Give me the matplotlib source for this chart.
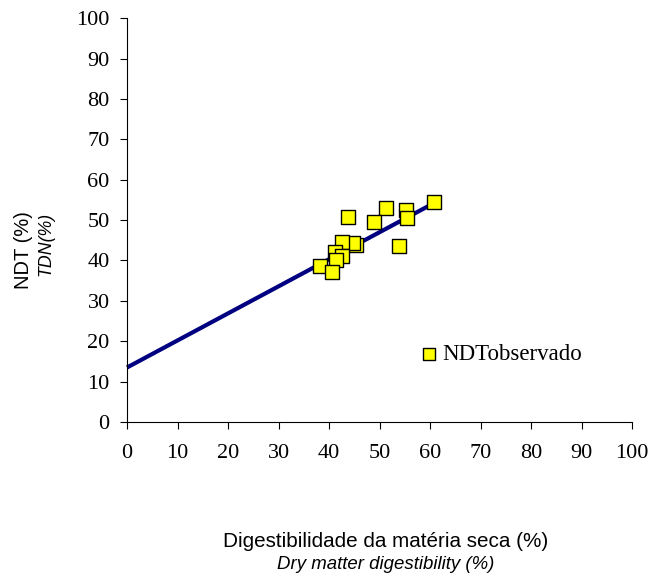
import numpy as np
import matplotlib.pyplot as plt

# Observed TDN vs dry matter digestibility
dms = [60.8, 43.7, 51.3, 48.8, 55.2, 55.4, 53.9, 45.3, 44.8, 42.6, 41.1, 42.6, 41.4, 38.2, 40.5]
ndt = [54.4, 50.8, 53.0, 49.5, 52.5, 50.6, 43.7, 43.8, 44.2, 44.6, 42.1, 41.2, 40.1, 38.7, 37.2]

# fitted line: NDT = a + b * DMS
fit_x = [0, 60.5]
intercept, slope = 13.5, 0.67

fig = plt.figure(figsize=(6.63, 5.77), dpi=100)
ax = fig.add_axes([0.1916, 0.2686, 0.762, 0.700])

fx = np.array(fit_x)
ax.plot(fx, intercept + slope * fx, color="#000080", lw=3, solid_capstyle="butt",
        clip_on=False, zorder=2)
ax.scatter(dms, ndt, marker="s", s=88, facecolor="#ffff00", edgecolor="black",
           linewidth=1.0, zorder=3, label="NDTobservado")

ax.set_xlim(0, 100)
ax.set_ylim(0, 100)
ax.set_xticks(range(0, 101, 10))
ax.set_yticks(range(0, 101, 10))
for s in ("top", "right"):
    ax.spines[s].set_visible(False)
for s in ("left", "bottom"):
    ax.spines[s].set_linewidth(0.8)
ax.tick_params(direction="out", length=5, width=0.8)
ax.tick_params(axis="x", pad=11)
ax.tick_params(axis="y", pad=7.5)
for lab in ax.get_xticklabels() + ax.get_yticklabels():
    lab.set_fontfamily("Liberation Serif")
    lab.set_fontsize(16)

leg = ax.legend(loc="center left", bbox_to_anchor=(0.547, 0.168), frameon=False,
                prop={"family": "Liberation Serif", "size": 16.5},
                handletextpad=0.0, markerscale=0.95, borderpad=0, handlelength=1.2)

fig.text(0.0355, 0.567, "NDT (%)", rotation=90, ha="center", va="center",
         family="Liberation Sans", fontsize=14.5)
fig.text(0.069, 0.577, "TDN(%)", rotation=90, ha="center", va="center",
         family="Liberation Sans", fontsize=12.8, style="italic")
fig.text(0.581, 0.062, "Digestibilidade da matéria seca (%)", ha="center", va="center",
         family="Liberation Sans", fontsize=14.9)
fig.text(0.581, 0.021, "Dry matter digestibility (%)", ha="center", va="center",
         family="Liberation Sans", fontsize=13.4, style="italic")

fig.savefig("out.png", dpi=100)
